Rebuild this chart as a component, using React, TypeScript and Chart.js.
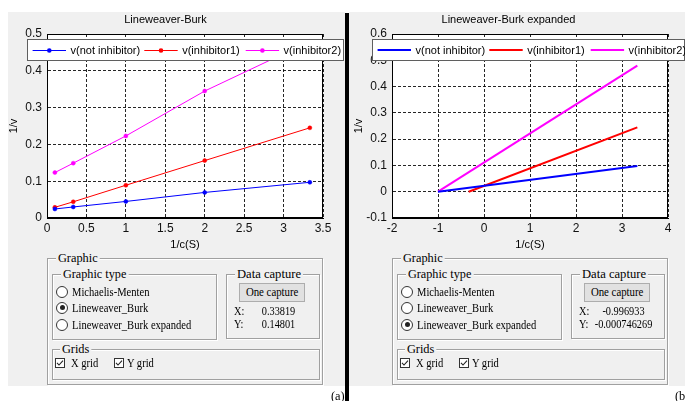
import React, { useEffect, useRef } from 'react';
import { Chart, registerables } from 'chart.js';

Chart.register(...registerables);

// ---------- data ----------
const seriesLabels = ['v(not inhibitor)', 'v(inhibitor1)', 'v(inhibitor2)'];
const seriesColors = ['#0000ff', '#ff0000', '#ff00ff'];

// (a) Lineweaver-Burk: 1/c(S) vs 1/v
const invS = [0.1, 0.333, 1, 2, 3.333];
const lbNotInhibitor = [0.0245, 0.030, 0.045, 0.0695, 0.097];
const lbInhibitor1 = [0.029, 0.044, 0.089, 0.156, 0.245];
const lbInhibitor2 = [0.1235, 0.149, 0.223, 0.345, 0.48];

// (b) Lineweaver-Burk expanded: fitted lines from x-intercept to last 1/c(S)
const expNotInhibitorX = [-1, 3.333];
const expNotInhibitorY = [0, 0.098];
const expInhibitor1X = [-0.333, 3.333];
const expInhibitor1Y = [0, 0.245];
const expInhibitor2X = [-1, 3.333];
const expInhibitor2Y = [0, 0.48];

// tick labels
const lbXTicks = [0, 0.5, 1, 1.5, 2, 2.5, 3, 3.5];
const lbYTicks = [0, 0.1, 0.2, 0.3, 0.4, 0.5];
const expXTicks = [-2, -1, 0, 1, 2, 3, 4];
const expYTicks = [-0.1, 0, 0.1, 0.2, 0.3, 0.4, 0.5, 0.6];

// GUI texts
const graphicTypes = ['Michaelis-Menten', 'Lineweaver_Burk', 'Lineweaver_Burk expanded'];
const captureA = ['0.33819', '0.14801'];
const captureB = ['-0.996933', '-0.000746269'];

// ---------- styling ----------
const FIG_BG = '#f0f0f0';
const SANS = '"Liberation Sans", Arial, Helvetica, sans-serif';
const SERIF = '"Liberation Serif", "Times New Roman", serif';

const framePlugin = {
  id: 'frameBox',
  beforeDraw(chart: any) {
    const { ctx, chartArea: a } = chart;
    ctx.save();
    ctx.fillStyle = '#ffffff';
    ctx.fillRect(a.left, a.top, a.right - a.left, a.bottom - a.top);
    ctx.restore();
  },
  afterDatasetsDraw(chart: any) {
    const { ctx, chartArea: a } = chart;
    ctx.save();
    ctx.strokeStyle = '#000';
    ctx.lineWidth = 1;
    ctx.strokeRect(Math.round(a.left) + 0.5, Math.round(a.top) + 0.5,
      Math.round(a.right - a.left) - 1, Math.round(a.bottom - a.top) - 1);
    ctx.restore();
  },
};

const boxLegendPlugin = {
  id: 'boxLegend',
  afterDraw(chart: any, _args: any, opts: any) {
    const { ctx, chartArea: a } = chart;
    const x0 = Math.round(a.left + opts.dx);
    const y0 = Math.round(a.top + opts.dy);
    const w = Math.round(opts.w);
    const h = Math.round(opts.h);
    ctx.save();
    ctx.fillStyle = '#ffffff';
    ctx.fillRect(x0, y0, w, h);
    ctx.strokeStyle = '#5f5f5f';
    ctx.lineWidth = 1;
    ctx.strokeRect(x0 + 0.5, y0 + 0.5, w - 1, h - 1);
    const cy = y0 + h / 2;
    chart.data.datasets.forEach((ds: any, i: number) => {
      const lx = x0 + opts.items[i];
      const lw = ds.borderWidth;
      const ly = lw % 2 ? Math.floor(cy) + 0.5 : Math.round(cy);
      ctx.strokeStyle = ds.borderColor;
      ctx.lineWidth = lw;
      ctx.beginPath();
      ctx.moveTo(lx, ly);
      ctx.lineTo(lx + opts.lineLen, ly);
      ctx.stroke();
      if (ds.pointRadius > 0) {
        ctx.fillStyle = ds.borderColor;
        ctx.beginPath();
        ctx.arc(lx + opts.lineLen / 2, ly, ds.pointRadius + 0.3, 0, Math.PI * 2);
        ctx.fill();
      }
      ctx.fillStyle = '#000';
      ctx.font = `11px ${SANS}`;
      ctx.textBaseline = 'middle';
      ctx.fillText(ds.label, lx + opts.lineLen + 4.5, cy + 0.5);
    });
    ctx.restore();
  },
};

const fmt = (v: any) => String(Math.round(Number(v) * 1000) / 1000);

function axisOpts(min: number, max: number, ticks: number[], title: string, isY: boolean, size: number, titlePad: any) {
  return {
    type: 'linear',
    min,
    max,
    afterBuildTicks: (s: any) => { s.ticks = ticks.map((v) => ({ value: v })); },
    afterFit: (s: any) => { if (isY) s.width = size; else s.height = size; },
    ticks: {
      callback: fmt,
      font: { family: SANS, size: 12 },
      color: '#111',
      padding: isY ? 5 : 3,
      autoSkip: false,
      maxRotation: 0,
    },
    grid: { color: 'rgba(0,0,0,0.85)', drawTicks: false, lineWidth: 1 },
    border: { display: true, color: '#000', dash: [3, 2] },
    title: {
      display: true,
      text: title,
      font: { family: SANS, size: 11, lineHeight: isY ? 1 : 1.2 },
      color: '#000',
      padding: titlePad,
    },
  };
}

function makeConfig(kind: 'a' | 'b') {
  const isA = kind === 'a';
  const datasets = isA
    ? [lbNotInhibitor, lbInhibitor1, lbInhibitor2].map((ys, i) => ({
        label: seriesLabels[i],
        data: invS.map((x, j) => ({ x, y: ys[j] })),
        borderColor: seriesColors[i],
        backgroundColor: seriesColors[i],
        borderWidth: 1,
        pointRadius: 2,
        pointHoverRadius: 2,
        pointBorderWidth: 0.5,
        tension: 0,
      }))
    : [
        [expNotInhibitorX, expNotInhibitorY],
        [expInhibitor1X, expInhibitor1Y],
        [expInhibitor2X, expInhibitor2Y],
      ].map(([xs, ys], i) => ({
        label: seriesLabels[i],
        data: xs.map((x, j) => ({ x, y: ys[j] })),
        borderColor: seriesColors[i],
        backgroundColor: seriesColors[i],
        borderWidth: 2,
        pointRadius: 0,
        pointHoverRadius: 0,
        tension: 0,
      }));
  return {
    type: 'line',
    data: { datasets },
    plugins: [framePlugin, boxLegendPlugin],
    options: {
      animation: false,
      responsive: false,
      maintainAspectRatio: false,
      devicePixelRatio: 1,
      events: [],
      layout: { padding: { left: 0, right: isA ? 22 : 17, top: 0, bottom: 0 } },
      scales: {
        x: axisOpts(isA ? 0 : -2, isA ? 3.5 : 4, isA ? lbXTicks : expXTicks, '1/c(S)', false, 34, { top: 0, bottom: 0.4 }),
        y: axisOpts(isA ? 0 : -0.1, isA ? 0.5 : 0.6, isA ? lbYTicks : expYTicks, '1/v', true, isA ? 39 : 43, { top: isA ? 0 : 4, bottom: 0 }),
      },
      plugins: {
        legend: { display: false },
        tooltip: { enabled: false },
        title: {
          display: true,
          text: isA ? 'Lineweaver-Burk' : 'Lineweaver-Burk expanded',
          font: { family: SANS, size: 11, weight: 'normal' },
          color: '#000',
          padding: { top: 1.4, bottom: 7.4 },
        },
        boxLegend: {
          dx: -20,
          dy: 5,
          w: isA ? 317 : 313,
          h: 22,
          items: [5.6, 117.3, 218.7],
          lineLen: 33.4,
        },
      },
    },
  };
}

function PlotCanvas({ kind, left, top, width, height }: any) {
  const ref = useRef<HTMLCanvasElement>(null);
  useEffect(() => {
    const chart = new Chart(ref.current as HTMLCanvasElement, makeConfig(kind) as any);
    return () => chart.destroy();
  }, [kind]);
  return (
    <canvas
      ref={ref}
      width={width}
      height={height}
      style={{ position: 'absolute', left, top, width, height }}
    />
  );
}

// ---------- GUI pieces ----------
function Etched({ l, t, r, b }: any) {
  return (
    <div
      style={{
        position: 'absolute', left: l, top: t, width: r - l, height: b - t,
        boxSizing: 'border-box', border: '1px solid #a0a0a0',
        boxShadow: '1px 1px 0 #ffffff, inset 1px 1px 0 #ffffff',
      }}
    />
  );
}

function Txt({ x, cy, size = 12, sx = 0.88, bg = false, children }: any) {
  const lh = size + 2;
  return (
    <span
      style={{
        position: 'absolute', left: x, top: cy - lh / 2, height: lh,
        fontFamily: SERIF, fontSize: size, lineHeight: `${lh}px`, color: '#000',
        whiteSpace: 'nowrap', transform: `scaleX(${sx})`, transformOrigin: 'left center',
        background: bg ? FIG_BG : 'transparent', padding: bg ? '0 2px' : 0,
      }}
    >
      {children}
    </span>
  );
}

function CTxt({ cx, cy, w, size = 12, sx = 0.88, children }: any) {
  const lh = size + 2;
  return (
    <div
      style={{
        position: 'absolute', left: cx - w / 2, top: cy - lh / 2, width: w, height: lh,
        textAlign: 'center', fontFamily: SERIF, fontSize: size, lineHeight: `${lh}px`,
        color: '#000', whiteSpace: 'nowrap',
      }}
    >
      <span style={{ display: 'inline-block', transform: `scaleX(${sx})`, transformOrigin: 'center' }}>
        {children}
      </span>
    </div>
  );
}

function Radio({ cx, cy, on }: any) {
  return (
    <div
      style={{
        position: 'absolute', left: cx - 6, top: cy - 6, width: 12, height: 12,
        boxSizing: 'border-box', borderRadius: '50%', border: '1px solid #333',
        background: '#fff',
      }}
    >
      {on ? (
        <div style={{ position: 'absolute', left: 2.5, top: 2.5, width: 5, height: 5, borderRadius: '50%', background: '#222' }} />
      ) : null}
    </div>
  );
}

function Check({ x, cy }: any) {
  return (
    <svg style={{ position: 'absolute', left: x, top: cy - 5 }} width={10} height={10}>
      <rect x={0.5} y={0.5} width={9} height={9} fill="#fff" stroke="#333" strokeWidth={1} />
      <polyline points="2,4.8 4,7 8,2.6" fill="none" stroke="#222" strokeWidth={1.1} />
    </svg>
  );
}

function GuiPanel({ ox, selected, values }: any) {
  const rows = [291.7, 307.7, 324.5];
  return (
    <>
      <Etched l={ox + 46.5} t={257.5} r={ox + 322.5} b={385} />
      <Txt x={ox + 56} cy={257} size={13} sx={0.95} bg>Graphic</Txt>
      <Etched l={ox + 51.5} t={274} r={ox + 217} b={339.5} />
      <Txt x={ox + 61.3} cy={273.5} size={13} sx={0.94} bg>Graphic type</Txt>
      {graphicTypes.map((g, i) => (
        <React.Fragment key={g}>
          <Radio cx={ox + 62.3} cy={rows[i]} on={i === selected} />
          <Txt x={ox + 71.7} cy={rows[i]} size={12} sx={0.88}>{g}</Txt>
        </React.Fragment>
      ))}
      <Etched l={ox + 225.5} t={274} r={ox + 320} b={338.5} />
      <Txt x={ox + 234.5} cy={273.5} size={13} sx={0.97} bg>Data capture</Txt>
      <div
        style={{
          position: 'absolute', left: ox + 239, top: 282.5, width: 66, height: 19,
          boxSizing: 'border-box', border: '1px solid #adadad', background: '#e1e1e1',
        }}
      />
      <CTxt cx={ox + 272} cy={292} w={66} size={12} sx={0.9}>One capture</CTxt>
      <Txt x={ox + 233.5} cy={311} size={12} sx={0.86}>X:</Txt>
      <Txt x={ox + 233.5} cy={323.5} size={12} sx={0.86}>Y:</Txt>
      <CTxt cx={ox + 278} cy={311} w={90} size={12} sx={0.86}>{values[0]}</CTxt>
      <CTxt cx={ox + 278} cy={323.5} w={90} size={12} sx={0.86}>{values[1]}</CTxt>
      <Etched l={ox + 51.5} t={348.5} r={ox + 320} b={380} />
      <Txt x={ox + 60} cy={348} size={13} sx={0.95} bg>Grids</Txt>
      <Check x={ox + 55} cy={363} />
      <Txt x={ox + 71} cy={363} size={12} sx={0.88}>X grid</Txt>
      <Check x={ox + 114} cy={363} />
      <Txt x={ox + 127} cy={363} size={12} sx={0.88}>Y grid</Txt>
    </>
  );
}

export default function App() {
  return (
    <div
      style={{
        position: 'absolute', left: 0, top: 0, width: 685, height: 401,
        overflow: 'hidden', background: '#ffffff',
      }}
    >
      <div style={{ position: 'absolute', left: 8, top: 12, width: 337, height: 374, background: FIG_BG }} />
      <div style={{ position: 'absolute', left: 349, top: 12, width: 336, height: 374, background: FIG_BG }} />
      <div style={{ position: 'absolute', left: 345, top: 13, width: 4, height: 388, background: '#000' }} />
      <PlotCanvas kind="a" left={8} top={12} width={337} height={240} />
      <PlotCanvas kind="b" left={349} top={12} width={336} height={240} />
      <GuiPanel ox={0} selected={1} values={captureA} />
      <GuiPanel ox={345} selected={2} values={captureB} />
      <Txt x={331} cy={395} size={13} sx={0.95}>(a)</Txt>
      <Txt x={675} cy={395} size={13} sx={0.95}>(b)</Txt>
    </div>
  );
}
